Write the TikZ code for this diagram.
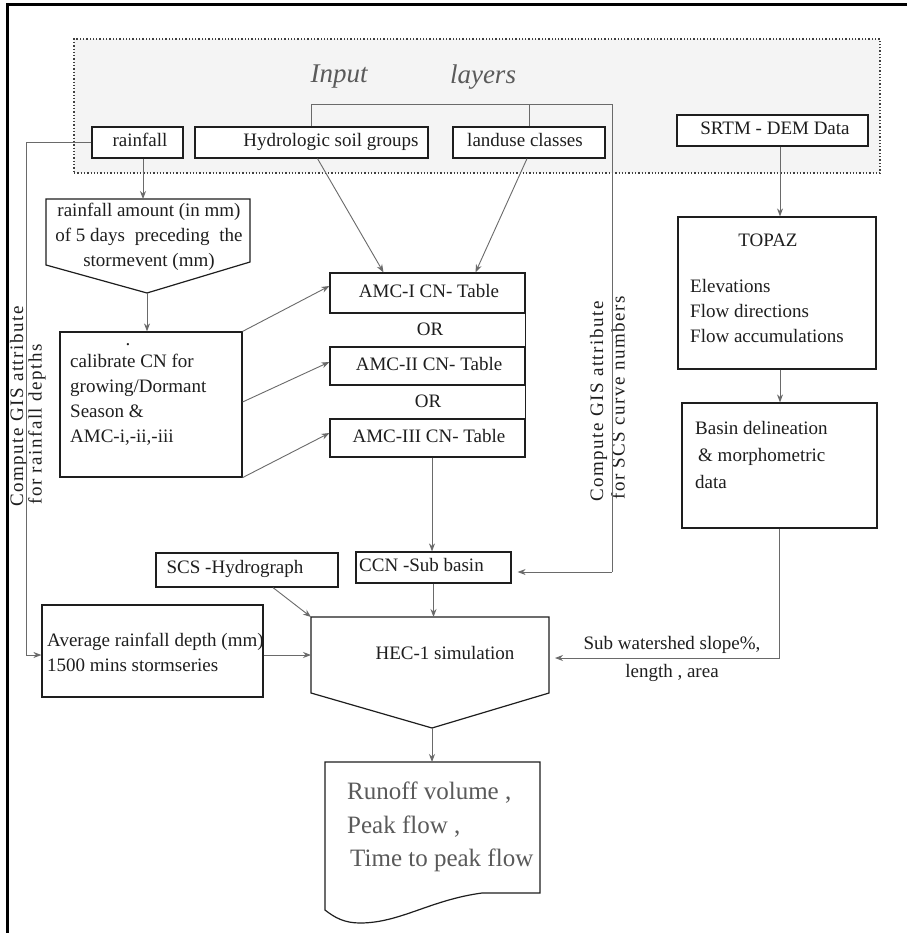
\documentclass[tikz,border=0pt]{standalone}
\usepackage{fontspec}
\setmainfont{Liberation Serif}
\usetikzlibrary{arrows.meta,calc}

\definecolor{ink}{HTML}{1E1E1E}
\definecolor{wire}{HTML}{6A6A6A}
\definecolor{softgray}{HTML}{5A5A5A}
\definecolor{panel}{HTML}{F4F4F4}

\tikzset{
  box/.style={draw=ink, line width=1.2pt, inner sep=0pt},
  body/.style={font=\fontsize{19}{25}\selectfont, text=ink, inner sep=0pt, text height=13pt, text depth=4pt},
  para/.style={font=\fontsize{19}{25}\selectfont, text=ink, inner sep=0pt},
  rot/.style={font=\fontsize{19}{22}\selectfont\addfontfeatures{LetterSpace=8}, text=ink, inner sep=0pt,
              rotate=90, anchor=west, text height=13pt, text depth=4pt},
  conn/.style={draw=wire, line width=0.9pt},
  arr/.style={conn, -{Stealth[length=8pt,width=6pt]}},
}

\begin{document}
\begin{tikzpicture}[x=1pt,y=-1pt]
\useasboundingbox (0,0) rectangle (907,933);
\fill[white] (0,0) rectangle (907,933);

% outer frame (top and left edges)
\draw[black, line width=3pt] (7,933) -- (7,5) -- (907,5);

% input layers panel
\node[draw=ink!85, dotted, line width=1.3pt, fill=panel, minimum width=806, minimum height=134, inner sep=0pt] (panel) at (477,106) {};
\node[font=\fontsize{27}{30}\selectfont\itshape, text=softgray, inner sep=0pt] (inp) at (339,77) {Input};
\node[font=\fontsize{27}{30}\selectfont\itshape, text=softgray, inner sep=0pt] (lay) at (483,77) {layers};

% input boxes
\node[box, fill=white, minimum width=91, minimum height=31] (rain) at (137.5,142.5) {};
\node[body] (raint) at (140,142) {rainfall};
\node[box, fill=white, minimum width=233, minimum height=31] (hsg) at (311.5,142.5) {};
\node[body] (hsgt) at (331,142) {Hydrologic soil groups};
\node[box, fill=white, minimum width=152, minimum height=31] (lu) at (529,142.5) {};
\node[body] (lut) at (525,142) {landuse classes};
\node[box, fill=white, minimum width=191, minimum height=31] (srtm) at (772.5,130.5) {};
\node[body] (srtmt) at (775,130) {SRTM - DEM Data};

% bracket from soil groups / landuse to the sub-basin curve numbers
\coordinate (bk1) at (314,104);
\coordinate (bk2) at (612,104);
\coordinate (bk3) at (612,572);

% antecedent rainfall (off-page connector shape)
\path (46,199) coordinate (amtNW) (250,199) coordinate (amtNE) (250,262) coordinate (amtSE)
      (147,293) coordinate (amtTip) (46,265) coordinate (amtSW);
\draw[box] (amtNW) -- (amtNE) -- (amtSE) -- (amtTip) -- (amtSW) -- cycle;
\node[para, align=center] (amt) at (149,237) {rainfall amount (in mm)\\of 5 days\hspace{5pt} preceding\hspace{5pt} the\\stormevent (mm)};

% calibration box
\node[box, minimum width=182, minimum height=145] (cal) at (151,404.5) {};
\node[para, align=left, anchor=west] (calt) at (70,400) {calibrate CN for\\growing/Dormant\\Season \&\\AMC-i,-ii,-iii};
\node[para, anchor=base] (caldot) at (128,345) {.};

% curve number tables
\node[box, minimum width=195, minimum height=40] (amc1) at (427.5,293) {};
\node[body] (amc1t) at (429,293) {AMC-I CN- Table};
\node[box, minimum width=195, minimum height=38] (amc2) at (427.5,366) {};
\node[body] (amc2t) at (429,366) {AMC-II CN- Table};
\node[box, minimum width=195, minimum height=38] (amc3) at (427.5,438) {};
\node[body] (amc3t) at (429,438) {AMC-III CN- Table};
\draw[box] (amc1.south east) -- (amc2.north east) (amc2.south east) -- (amc3.north east);
\node[body] (or1) at (430,331) {OR};
\node[body] (or2) at (428,403) {OR};

% sub-basin curve number, hydrograph, rainfall depth
\node[box, minimum width=155, minimum height=31] (ccn) at (433.5,567.5) {};
\node[body, anchor=west] (ccnt) at (359,567) {CCN -Sub basin};
\node[box, minimum width=182, minimum height=34] (scs) at (247,570) {};
\node[body] (scst) at (235,569) {SCS -Hydrograph};
\node[box, minimum width=221, minimum height=92] (avg) at (152.5,651) {};
\node[para, align=left, anchor=west] (avgt) at (47,652) {Average rainfall depth (mm)\\1500 mins stormseries};

% HEC-1 simulation (off-page connector shape)
\path (311,617) coordinate (hecNW) (549,617) coordinate (hecNE) (549,693) coordinate (hecSE)
      (432,728) coordinate (hecTip) (311,693) coordinate (hecSW);
\draw[box] (hecNW) -- (hecNE) -- (hecSE) -- (hecTip) -- (hecSW) -- cycle;
\node[body] (hec) at (445,655) {HEC-1 simulation};

% TOPAZ and basin delineation
\node[box, minimum width=198, minimum height=152] (topaz) at (777,293) {};
\node[body] (topazt) at (768,242) {TOPAZ};
\node[para, align=left, anchor=west] (topazl) at (690,311) {Elevations\\Flow directions\\Flow accumulations};
\node[box, minimum width=195, minimum height=125] (basin) at (779.5,465.5) {};
\node[font=\fontsize{19}{27}\selectfont, text=ink, inner sep=0pt, align=left, anchor=west] (basint) at (695,455) {Basin delineation\\\hspace{3pt}\& morphometric\\data};

% output document
\coordinate (outN) at (432,762);
\draw[box] (325,762) -- (540,762) -- (540,893) -- (482,893)
  .. controls (430,900) and (400,923) .. (360,923)
  .. controls (345,923) and (335,918) .. (325,910) -- cycle;
\node[font=\fontsize{25}{33.5}\selectfont, text=softgray, inner sep=0pt, align=left, anchor=west] (outt) at (347,827)
  {Runoff volume ,\\Peak flow ,\\\hspace{3pt}Time to peak flow};

% rotated attribute labels
\node[rot] (gisL1) at (18.5,507) {Compute GIS attribute};
\node[rot] (gisL2) at (37,505) {for rainfall depths};
\node[rot] (gisR1) at (598.5,502) {Compute GIS attribute};
\node[rot] (gisR2) at (620,500) {for SCS curve numbers};

% connectors
\draw[conn] (hsg.north) -- (hsg.north |- bk1) -- (bk2) -- (bk3);
\draw[conn] (lu.north) -- (lu.north |- bk1);
\draw[arr, shorten >=6pt] (bk3) -- (bk3 -| ccn.east);

\draw[arr] ($(rain.south)+(5.5,0)$) coordinate (r1) -- (r1 |- amtNW);
\draw[arr] (amtTip) -- (amtTip |- cal.north);

\draw[arr] ($(hsg.south)+(6,0)$) -- ($(amc1.north)+(-44,0)$);
\draw[arr] ($(lu.south)+(-2,0)$) -- ($(amc1.north)+(48,0)$);

\draw[arr] (cal.north east) -- ($(amc1.west)+(0,-7)$);
\draw[arr] ($(cal.east)+(0,-2.5)$) -- ($(amc2.west)+(0,-4)$);
\draw[arr] (cal.south east) -- ($(amc3.west)+(0,-5)$);

\draw[arr] ($(amc3.south)+(4.5,0)$) coordinate (a3) -- (a3 |- ccn.north);

\draw[arr] ($(avg.east)+(0,4)$) coordinate (av1) -- (av1 -| hecNW);
\draw[arr] (rain.west) -- ++(-65,0) coordinate (lw1) -- (lw1 |- av1) -- ($(avg.west)+(0,4)$);

\draw[arr] ($(scs.south)+(26,0)$) -- (hecNW);
\draw[arr] (ccn.south) -- (ccn.south |- hecNW);

\draw[arr] ($(srtm.south)+(7.5,0)$) coordinate (s1) -- (s1 |- topaz.north);
\draw[arr] ($(topaz.south)+(3,0)$) coordinate (t1) -- (t1 |- basin.north);

\coordinate (bw) at (780,658);
\draw[arr, shorten >=6pt] (basin.south) -- (basin.south |- bw) -- (bw -| hecNE);
\node[font=\fontsize{19}{28}\selectfont, text=ink, inner sep=0pt, align=center] (slope) at (672,659) {Sub watershed slope\%,\\length , area};

\draw[arr] (hecTip) -- (outN);
\end{tikzpicture}
\end{document}
